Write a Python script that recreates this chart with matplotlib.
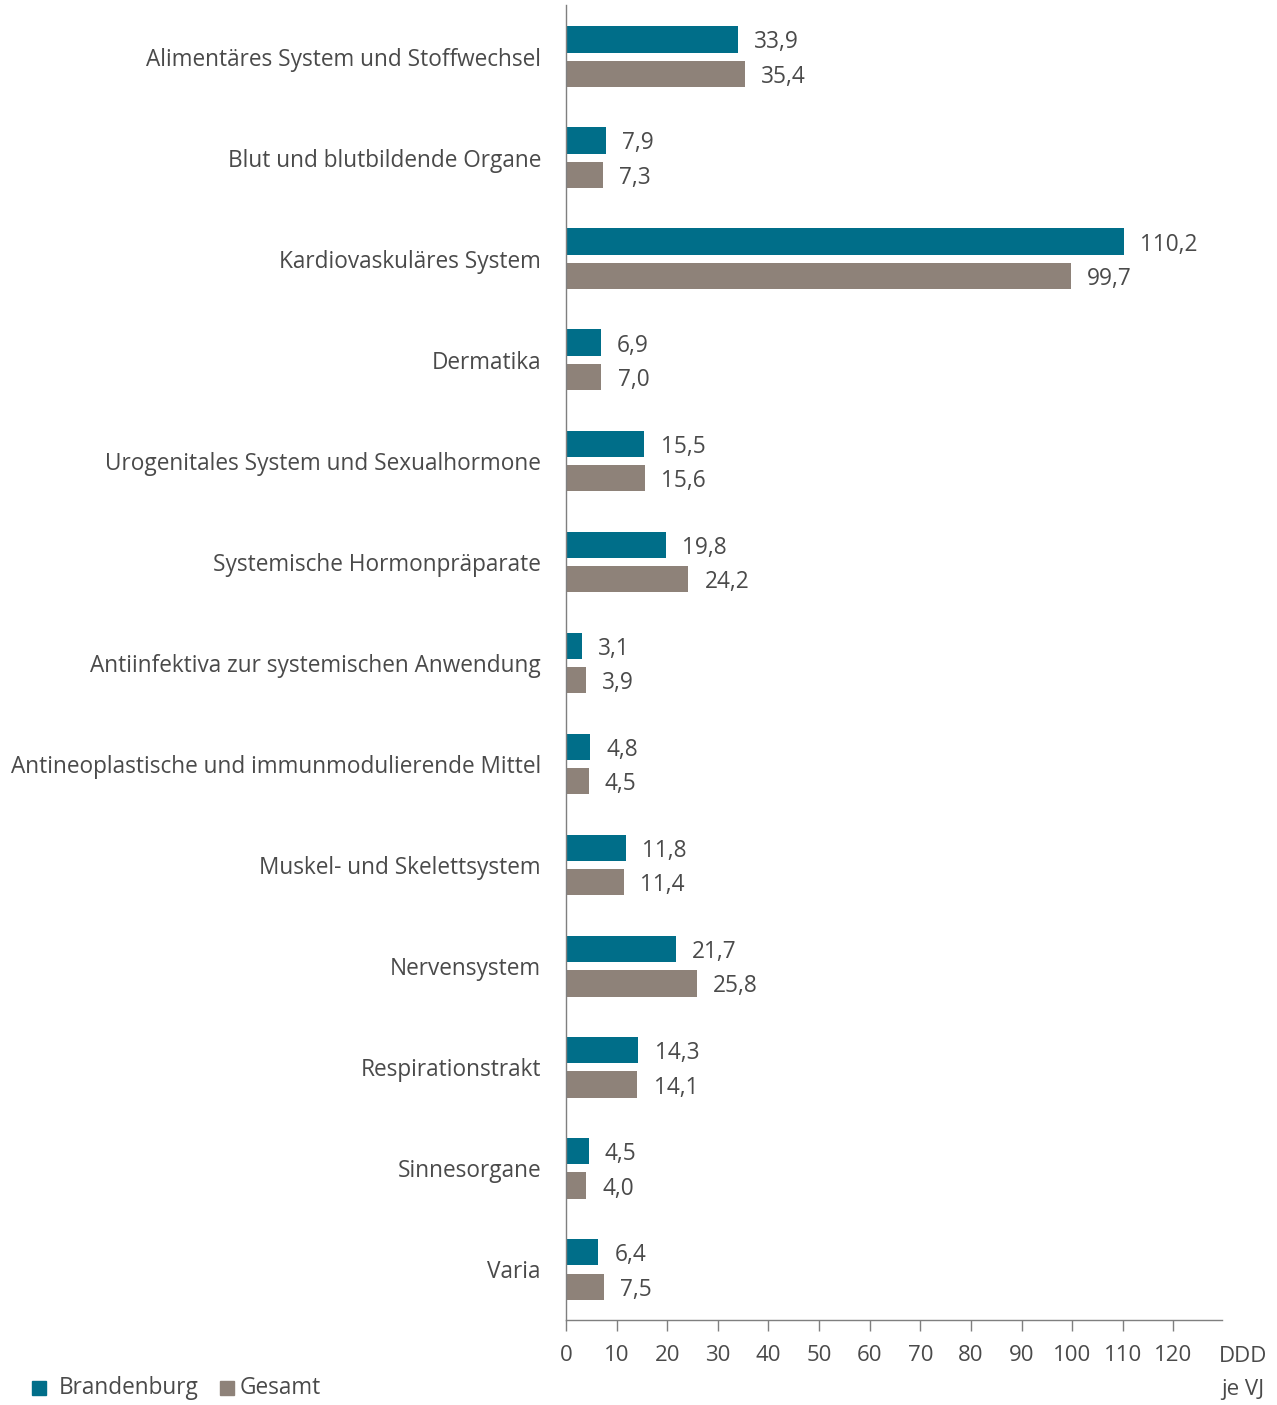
import numpy as np
import matplotlib.pyplot as plt
from matplotlib.patches import Rectangle

categories = [
    "Alimentäres System und Stoffwechsel",
    "Blut und blutbildende Organe",
    "Kardiovaskuläres System",
    "Dermatika",
    "Urogenitales System und Sexualhormone",
    "Systemische Hormonpräparate",
    "Antiinfektiva zur systemischen Anwendung",
    "Antineoplastische und immunmodulierende Mittel",
    "Muskel- und Skelettsystem",
    "Nervensystem",
    "Respirationstrakt",
    "Sinnesorgane",
    "Varia",
]
brandenburg = [33.9, 7.9, 110.2, 6.9, 15.5, 19.8, 3.1, 4.8, 11.8, 21.7, 14.3, 4.5, 6.4]
gesamt = [35.4, 7.3, 99.7, 7.0, 15.6, 24.2, 3.9, 4.5, 11.4, 25.8, 14.1, 4.0, 7.5]
x_ticks = list(range(0, 130, 10))

TEAL = "#006E89"
GREY = "#8E8279"
TEXT = "#4A4A4A"
AXIS = "#7F7F7F"

plt.rcParams["font.family"] = ["Open Sans", "DejaVu Sans"]

fig = plt.figure(figsize=(12.77, 14.05), dpi=100)
ax = fig.add_axes([0.4432, 0.0605, 0.5138, 0.9359])

y = np.arange(len(categories))
h = 0.26
off = 0.17
ax.barh(y - off, brandenburg, height=h, color=TEAL)
ax.barh(y + off, gesamt, height=h, color=GREY)

for yi, v in zip(y, brandenburg):
    ax.text(v + 3.2, yi - off, f"{v:.1f}".replace(".", ","), va="center_baseline", ha="left",
            fontsize=16.3, color=TEXT)
for yi, v in zip(y, gesamt):
    ax.text(v + 3.2, yi + off, f"{v:.1f}".replace(".", ","), va="center_baseline", ha="left",
            fontsize=16.3, color=TEXT)

ax.set_ylim(12.5, -0.51)
ax.set_xlim(0, 129.6)
ax.set_yticks(y)
ax.set_yticklabels(categories, fontsize=16.3, color=TEXT)
ax.tick_params(axis="y", length=0, pad=18)
ax.set_xticks(x_ticks)
ax.set_xticklabels([str(t) for t in x_ticks], fontsize=16, color=TEXT)
ax.tick_params(axis="x", length=8, width=1, color=AXIS, pad=10)

for s in ["top", "right"]:
    ax.spines[s].set_visible(False)
for s in ["left", "bottom"]:
    ax.spines[s].set_color(AXIS)
    ax.spines[s].set_linewidth(1)

fig.text(1243 / 1277, 1 - 1357 / 1405, "DDD", ha="center", va="center", fontsize=16, color=TEXT)
fig.text(1243 / 1277, 1 - 1390 / 1405, "je VJ", ha="center", va="center", fontsize=16, color=TEXT)

# legend
fig.patches.append(Rectangle((32 / 1277, 1 - 1395 / 1405), 14 / 1277, 14 / 1405,
                             transform=fig.transFigure, color=TEAL))
fig.text(59 / 1277, 1 - 1388 / 1405, "Brandenburg", ha="left", va="center", fontsize=16.3, color=TEXT)
fig.patches.append(Rectangle((220 / 1277, 1 - 1395 / 1405), 14 / 1277, 14 / 1405,
                             transform=fig.transFigure, color=GREY))
fig.text(240 / 1277, 1 - 1388 / 1405, "Gesamt", ha="left", va="center", fontsize=16.3, color=TEXT)

fig.savefig("out.png", dpi=100)
